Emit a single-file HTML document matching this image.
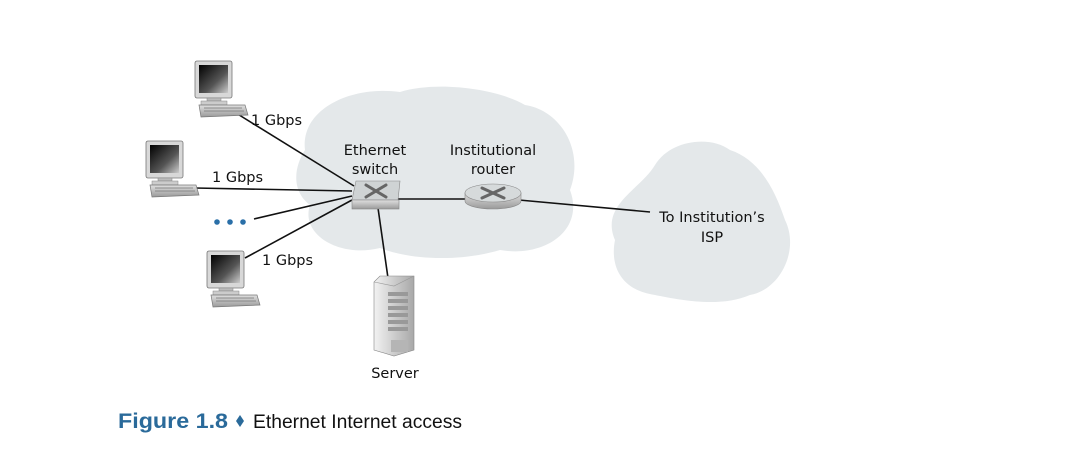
<!DOCTYPE html>
<html><head><meta charset="utf-8"><style>
html,body{margin:0;padding:0;background:#fff;}
svg{display:block;font-family:"DejaVu Sans","Liberation Sans",sans-serif;}
</style></head><body>
<svg width="1078" height="476" viewBox="0 0 1078 476" xmlns="http://www.w3.org/2000/svg">
<defs>
<linearGradient id="scr" x1="0" y1="0" x2="1" y2="1"><stop offset="0" stop-color="#000"/><stop offset="0.6" stop-color="#555"/><stop offset="1" stop-color="#ccc"/></linearGradient>
<linearGradient id="gr" x1="0" y1="0" x2="0" y2="1"><stop offset="0" stop-color="#e0e0e0"/><stop offset="1" stop-color="#9a9a9a"/></linearGradient>
<linearGradient id="srv" x1="0" y1="0" x2="1" y2="0"><stop offset="0" stop-color="#f2f2f2"/><stop offset="1" stop-color="#a8a8a8"/></linearGradient>
<g id="pc">
<rect x="0" y="0" width="37" height="37" rx="2" fill="#d8d8d8" stroke="#777" stroke-width="0.8"/>
<rect x="4" y="4" width="29" height="28" fill="url(#scr)"/>
<rect x="12" y="37" width="14" height="3" fill="#bbb" stroke="#888" stroke-width="0.5"/>
<rect x="6" y="40" width="26" height="4" fill="#ccc" stroke="#888" stroke-width="0.5"/>
<path d="M4 44 L50 44 L53 54 L6 56 Z" fill="url(#gr)" stroke="#777" stroke-width="0.7"/>
<path d="M9 47 L47 47 M9 50 L49 50" stroke="#777" stroke-width="0.7"/>
</g>
</defs>
<path d="M305 150 C300 110 350 85 400 92 C440 80 500 90 525 105 C560 110 585 150 570 190 C585 230 545 258 500 250 C460 262 410 260 380 248 C340 258 300 235 310 205 C290 190 295 165 305 150 Z" fill="#e4e8ea"/>
<path d="M615 240 C600 205 640 190 655 165 C670 140 710 135 730 150 C760 160 775 190 785 220 C800 250 780 290 750 295 C720 308 680 300 655 295 C620 290 610 265 615 240 Z" fill="#e4e8ea"/>
<g stroke="#111" stroke-width="1.6" fill="none">
<line x1="236" y1="113" x2="354" y2="186"/>
<line x1="195" y1="188" x2="352" y2="191"/>
<line x1="254" y1="219" x2="352" y2="196"/>
<line x1="245" y1="258" x2="352" y2="200"/>
<line x1="378" y1="208" x2="388" y2="278"/>
<line x1="398" y1="199" x2="466" y2="199"/>
<line x1="519" y1="200" x2="650" y2="212"/>
</g>
<use href="#pc" x="195" y="61"/>
<use href="#pc" x="146" y="141"/>
<use href="#pc" x="207" y="251"/>
<g fill="#2a6fa8"><circle cx="217" cy="222" r="2.8"/><circle cx="230" cy="222" r="2.8"/><circle cx="243" cy="222" r="2.8"/></g>
<path d="M356 181 L400 181 L398 200 L352 200 Z" fill="#cfd3d4" stroke="#888" stroke-width="0.6"/>
<rect x="352" y="200" width="47" height="9" fill="url(#gr)" stroke="#888" stroke-width="0.6"/>
<g stroke="#666" stroke-width="3" stroke-linecap="round"><line x1="366" y1="185" x2="386" y2="197"/><line x1="386" y1="185" x2="366" y2="197"/></g>
<path d="M465 193 L465 201 A28 8 0 0 0 521 201 L521 193 Z" fill="url(#gr)" stroke="#888" stroke-width="0.6"/>
<ellipse cx="493" cy="193" rx="28" ry="9" fill="#d6dadb" stroke="#888" stroke-width="0.6"/>
<g stroke="#666" stroke-width="3" stroke-linecap="round"><line x1="482" y1="188" x2="504" y2="198"/><line x1="504" y1="188" x2="482" y2="198"/></g>
<path d="M374 282 L380 276 L414 276 L414 350 L394 356 L374 350 Z" fill="url(#srv)" stroke="#888" stroke-width="0.6"/>
<path d="M374 282 L394 286 L414 276" fill="none" stroke="#999" stroke-width="0.6"/>
<g fill="#999"><rect x="388" y="292" width="20" height="4"/><rect x="388" y="299" width="20" height="4"/><rect x="388" y="306" width="20" height="4"/><rect x="388" y="313" width="20" height="4"/><rect x="388" y="320" width="20" height="4"/><rect x="388" y="327" width="20" height="4"/><rect x="391" y="340" width="17" height="12" fill="#b5b5b5"/></g>
<g font-size="14.5" fill="#111">
<text x="251" y="125">1 Gbps</text>
<text x="212" y="182">1 Gbps</text>
<text x="262" y="265">1 Gbps</text>
<text x="375" y="155" text-anchor="middle">Ethernet</text>
<text x="375" y="174" text-anchor="middle">switch</text>
<text x="493" y="155" text-anchor="middle">Institutional</text>
<text x="493" y="174" text-anchor="middle">router</text>
<text x="712" y="222" text-anchor="middle">To Institution’s</text>
<text x="712" y="242" text-anchor="middle">ISP</text>
<text x="395" y="378" text-anchor="middle">Server</text>
</g>
<text x="118" y="428" font-size="21" font-weight="bold" fill="#2a6a9a" font-family="Liberation Sans, sans-serif" textLength="110" lengthAdjust="spacingAndGlyphs">Figure 1.8</text>
<path d="M240 415 L244 421 L240 427 L236 421 Z" fill="#2a6a9a"/>
<text x="253" y="428" font-size="19.3" fill="#111" font-family="Liberation Sans, sans-serif">Ethernet Internet access</text>
</svg>
</body></html>
